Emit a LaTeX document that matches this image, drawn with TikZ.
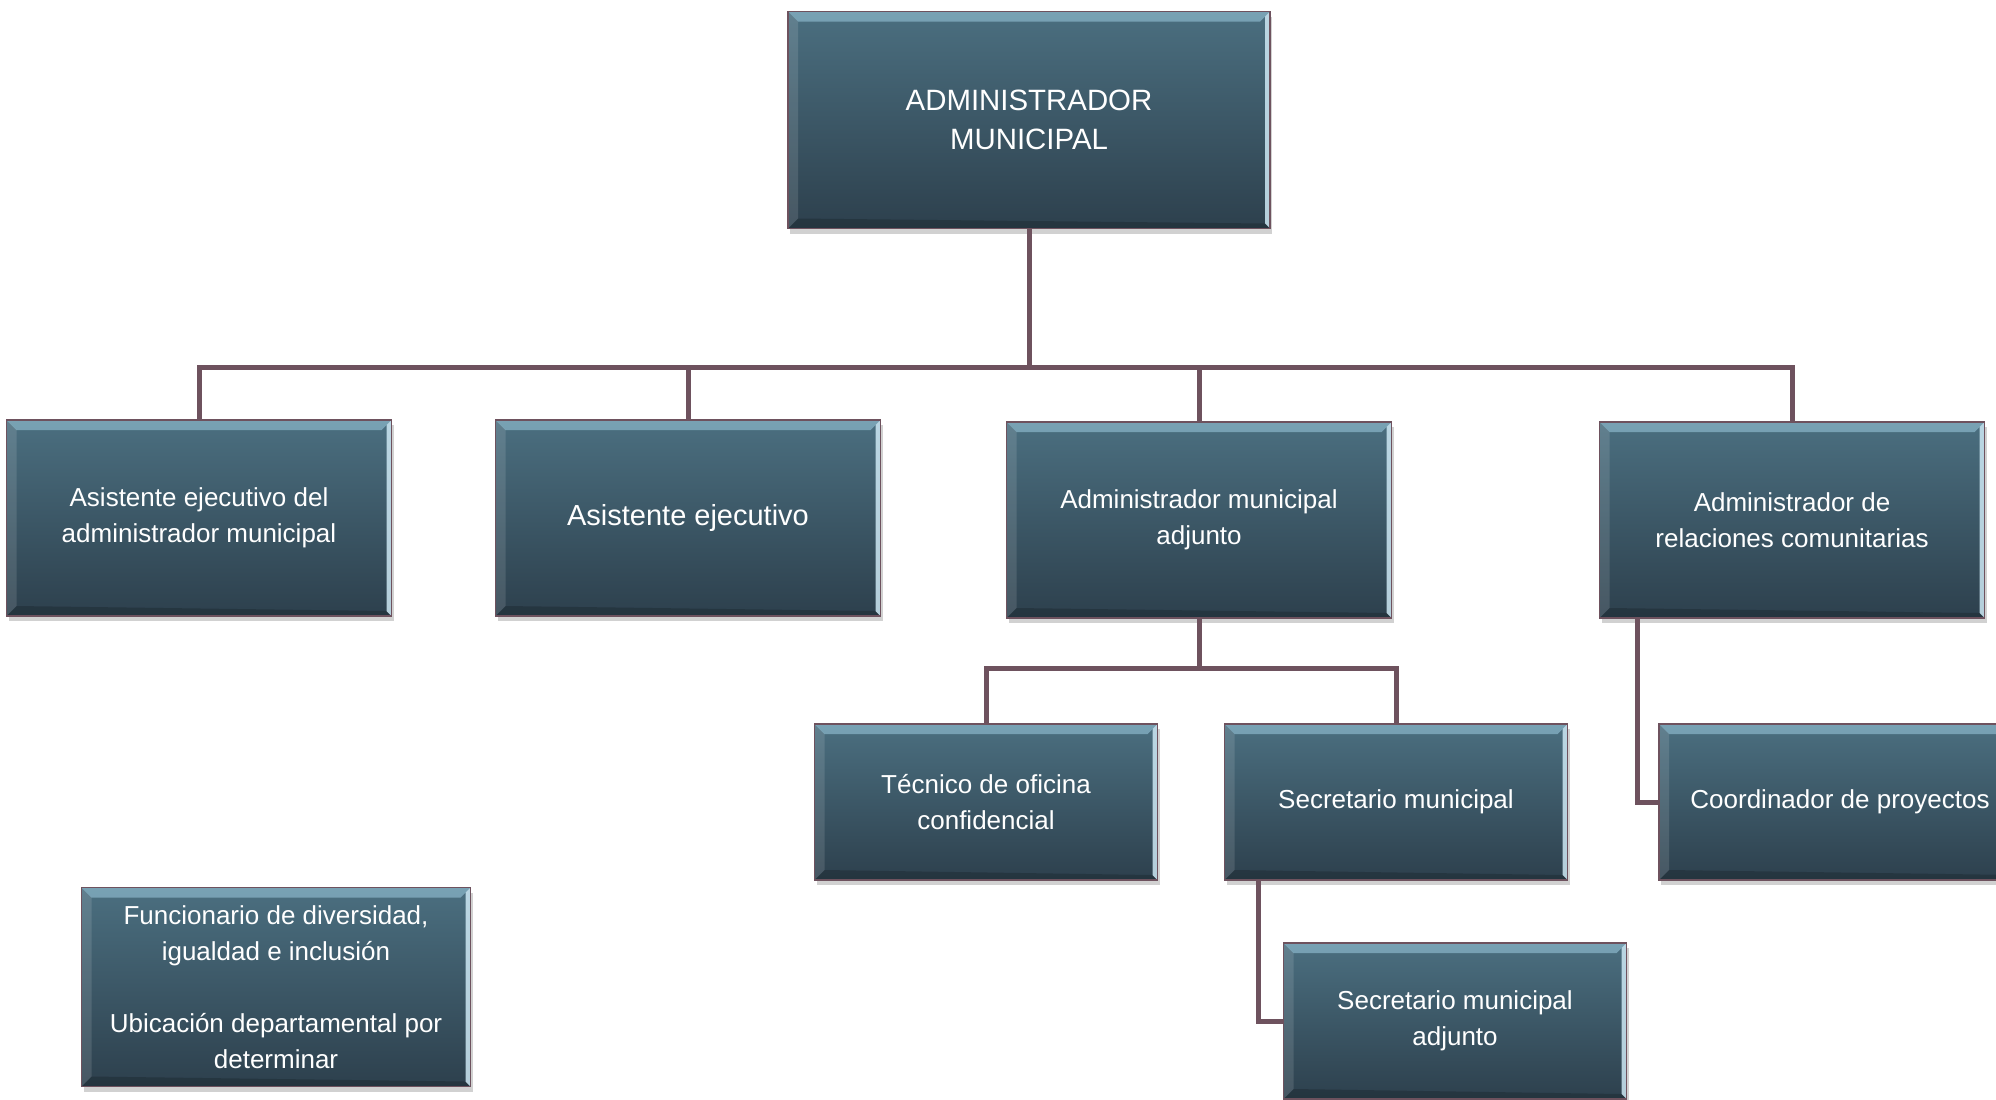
\documentclass[tikz,border=0pt]{standalone}
\usepackage{fontspec}
\setmainfont{Liberation Sans}
\usetikzlibrary{positioning,shadows,calc}

\definecolor{boxtop}{RGB}{75,111,128}
\definecolor{boxbot}{RGB}{45,64,77}
\definecolor{linkc}{RGB}{110,82,94}
\definecolor{bevtop}{RGB}{150,195,215}
\definecolor{bevright}{RGB}{205,232,244}

\tikzset{
  bevel/.style={path picture={
    \fill[bevtop,opacity=0.6] (path picture bounding box.north west) -- (path picture bounding box.north east) -- ([shift={(-5pt,-5pt)}]path picture bounding box.north east) -- ([shift={(5pt,-5pt)}]path picture bounding box.north west) -- cycle;
    \fill[bevright,opacity=0.85] (path picture bounding box.north east) -- (path picture bounding box.south east) -- ([shift={(-2.5pt,2.5pt)}]path picture bounding box.south east) -- ([shift={(-2.5pt,-2.5pt)}]path picture bounding box.north east) -- cycle;
    \fill[white,opacity=0.12] (path picture bounding box.north west) -- ([shift={(5pt,-5pt)}]path picture bounding box.north west) -- ([shift={(5pt,5pt)}]path picture bounding box.south west) -- (path picture bounding box.south west) -- cycle;
    \fill[black,opacity=0.18] (path picture bounding box.south west) -- ([shift={(5pt,5pt)}]path picture bounding box.south west) -- ([shift={(-2.5pt,2.5pt)}]path picture bounding box.south east) -- (path picture bounding box.south east) -- cycle;
  }},
  orgbox/.style={rectangle, draw=linkc, line width=0.8pt, top color=boxtop, bottom color=boxbot,
    text=white, align=center, font=\fontsize{13}{18}\selectfont, bevel,
    drop shadow={shadow xshift=1pt, shadow yshift=-2.5pt, opacity=0.3, fill=black!60}},
  lvlone/.style={minimum width=192.5pt, minimum height=98pt},
  lvltwo/.style={minimum width=171.5pt, minimum height=78pt},
  link/.style={draw=linkc, line width=2.5pt}
}

\begin{document}
\begin{tikzpicture}[x=0.5pt,y=-0.5pt]
    \clip (0,0) rectangle (1996,1099);
    % top
    \node[orgbox,minimum width=241pt,minimum height=108.5pt,font=\fontsize{14.7}{19.5}\selectfont] (admin) at (1029,120) {ADMINISTRADOR\\ MUNICIPAL};
    % first level
    \node[orgbox,lvlone] (asisdel) at (199,518) {Asistente ejecutivo del\\ administrador municipal};
    \node[orgbox,lvlone,font=\fontsize{14.5}{18}\selectfont] (asis) at (688,518) {Asistente ejecutivo};
    \node[orgbox,lvlone] (admadj) at (1199,520) {Administrador municipal\\ adjunto};
    \node[orgbox,lvlone] (relcom) at (1792,520) {Administrador de\\ relaciones comunitarias};
    % second level
    \node[orgbox,lvltwo] (tecnico) at (986,802) {Técnico de oficina\\ confidencial};
    \node[orgbox,lvltwo] (secret) at (1396,802) {Secretario municipal};
    \node[orgbox,lvltwo,minimum width=181pt] (coord) at (1840,802) {Coordinador de proyectos};
    \node[orgbox,lvltwo] (secadj) at (1455,1021) {Secretario municipal\\ adjunto};
    % no connection
    \node[orgbox,minimum width=194.5pt,minimum height=99.5pt] (funcio) at (276,987) {Funcionario de diversidad,\\ igualdad e inclusión\\[18pt] Ubicación departamental por\\ determinar};

    \coordinate (busone) at (1029,367);
    \draw[link] (admin.south) -- (busone);
    \draw[link] (asisdel.north) |- (busone) -| (relcom.north);
    \foreach \n in {asis,admadj}
        \draw[link] (\n.north |- busone) -- (\n.north);
    \coordinate (bustwo) at (1199,668);
    \draw[link] (admadj.south) -- (bustwo);
    \draw[link] (tecnico.north) |- (bustwo) -| (secret.north);
    \draw[link] ([xshift=19.5pt]relcom.south west) |- (coord.west);
    \draw[link] ([xshift=17.5pt]secret.south west) |- (secadj.west);
\end{tikzpicture}
\end{document}
